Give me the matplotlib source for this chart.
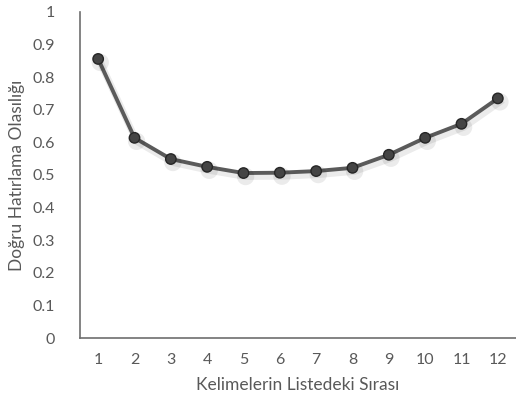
import matplotlib
matplotlib.use('Agg')
import matplotlib.pyplot as plt
import matplotlib.patheffects as pe

# word position in the list vs. probability of correct recall
positions = list(range(1, 13))
recall_prob = [0.856, 0.614, 0.549, 0.525, 0.506, 0.507,
               0.512, 0.522, 0.562, 0.614, 0.657, 0.735]
y_ticks = [0, 0.1, 0.2, 0.3, 0.4, 0.5, 0.6, 0.7, 0.8, 0.9, 1]
y_tick_labels = ['0', '0.1', '0.2', '0.3', '0.4', '0.5',
                 '0.6', '0.7', '0.8', '0.9', '1']

TEXT = '#595959'
plt.rcParams['font.family'] = ['Lato', 'DejaVu Sans']

fig = plt.figure(figsize=(5.16, 4.08), dpi=100)
ax = fig.add_axes([80 / 516, 70 / 408, 436 / 516, 326 / 408])

shadow = [pe.SimpleLineShadow(offset=(1.5, -2.5), shadow_color='#000000',
                              alpha=0.08, linewidth=5), pe.Normal()]
ax.plot(positions, recall_prob, color='#5a5a5a', linewidth=2.8,
        marker='o', markersize=7.5, markerfacecolor='#444444',
        markeredgecolor='#262626', markeredgewidth=1.0,
        path_effects=shadow, zorder=3)

ax.set_xlim(0.5, 12.5)
ax.set_ylim(0, 1)
ax.set_xticks(positions)
ax.set_yticks(y_ticks)
ax.set_yticklabels(y_tick_labels)
ax.tick_params(length=0, colors=TEXT, labelsize=11.5)
ax.tick_params(axis='x', pad=11)
ax.tick_params(axis='y', pad=18)

for side in ('top', 'right'):
    ax.spines[side].set_visible(False)
for side in ('left', 'bottom'):
    ax.spines[side].set_color('#6e6e6e')
    ax.spines[side].set_linewidth(1.2)

ax.set_xlabel('Kelimelerin Listedeki Sırası', color=TEXT, fontsize=12.5)
ax.set_ylabel('Doğru Hatırlama Olasılığı', color=TEXT, fontsize=12.5)
ax.xaxis.set_label_coords((298 - 80) / 436, -(385 - 338) / 326)
ax.yaxis.set_label_coords((17 - 80) / 436, (338 - 175) / 326)
ax.xaxis.label.set_va('center')
ax.yaxis.label.set_va('center')

fig.savefig('out.png', dpi=100)
